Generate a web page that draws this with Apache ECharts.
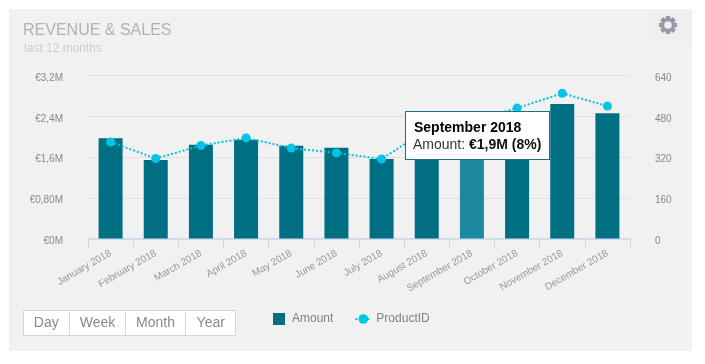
<!DOCTYPE html>
<html>
<head>
<meta charset="utf-8">
<script src="https://cdn.jsdelivr.net/npm/echarts@6/dist/echarts.min.js"></script>
<style>html,body{margin:0;padding:0;background:#fff}#c{width:705px;height:364px}</style>
</head>
<body>
<div id="c"></div>
<script>
const categories = ['January 2018','February 2018','March 2018','April 2018','May 2018','June 2018','July 2018','August 2018','September 2018','October 2018','November 2018','December 2018'];
const amountValues = [1.97,1.54,1.84,1.94,1.82,1.78,1.56,1.78,1.9,2.1,2.64,2.46];
const productValues = [379,314,365,395,355,336,312,426,465,512,570,520];
const leftTicks = {0:'€0M',0.8:'€0,80M',1.6:'€1,6M',2.4:'€2,4M',3.2:'€3,2M'};
const rangeButtons = ['Day','Week','Month','Year'];
const highlighted = 8;
const tipTitle = 'September 2018';
const tipAmount = '€1,9M (8%)';

const FONT = '"Liberation Sans", Arial, sans-serif';
const chart = echarts.init(document.getElementById('c'), null, {renderer:'canvas'});

const graphics = [
  {type:'rect',z:-10,silent:true,shape:{x:9,y:9,width:683,height:342},style:{fill:'#f1f1f1'}},
  {type:'rect',z:-9,silent:true,shape:{x:648,y:9,width:44,height:32},style:{fill:'#efeff0'}},
  {type:'text',left:23,top:23,silent:true,style:{text:'REVENUE & SALES',font:'16px '+FONT,fill:'#b2b2b2'}},
  {type:'text',left:24,top:43,silent:true,style:{text:'last 12 months',font:'12px '+FONT,fill:'#cdcdcd'}},
  {type:'ring',silent:true,shape:{cx:668,cy:25,r:7,r0:3.8},style:{fill:'#9a98a8'}}
];
for (let i=0;i<8;i++){
  graphics.push({type:'rect',silent:true,x:668,y:25,originX:0,originY:0,rotation:i*Math.PI/4,
    shape:{x:-2.2,y:-9,width:4.4,height:3.5},style:{fill:'#9a98a8'}});
}
const edges = [23,69.5,125.5,185.5,236];
graphics.push({type:'rect',silent:true,shape:{x:23.5,y:310.5,width:212,height:25},style:{fill:'#fff',stroke:'#d6d6d6',lineWidth:1}});
rangeButtons.forEach((b,i)=>{
  if(i>0) graphics.push({type:'line',silent:true,shape:{x1:edges[i],y1:310,x2:edges[i],y2:336},style:{stroke:'#d6d6d6',lineWidth:1}});
  graphics.push({type:'text',silent:true,x:(edges[i]+edges[i+1])/2,y:323,
    style:{text:b,font:'14px '+FONT,fill:'#8a8a8a',align:'center',verticalAlign:'middle'}});
});

chart.setOption({
  animation:false,
  textStyle:{fontFamily:FONT},
  grid:{left:88,right:75,top:75.5,bottom:125.5,containLabel:false},
  legend:{left:268,top:308,itemWidth:16,itemHeight:12,itemGap:21,selectedMode:false,
    textStyle:{color:'#808080',fontSize:12,fontFamily:FONT},
    data:[{name:'Amount',icon:'path://M0 0H10V10H0Z',itemStyle:{color:'#006f83'}},{name:'ProductID'}]},
  tooltip:{trigger:'item',alwaysShowContent:true,showContent:true,position:[405,111],
    transitionDuration:0,padding:0,borderWidth:0,backgroundColor:'transparent',
    extraCssText:'box-shadow:none;border-radius:0;',
    formatter:()=>`<div style="box-sizing:border-box;width:145px;height:49px;background:#fff;border:1px solid #1a6f80;padding:7px 0 0 8px;font:14px/17px ${FONT};white-space:nowrap"><div style="font-weight:bold;color:#000;line-height:17px;height:17px">${tipTitle}</div><div style="color:#333;line-height:17px;height:17px;margin-left:-1px">Amount: <span style="font-weight:bold;color:#111">${tipAmount}</span></div></div>`},
  xAxis:{type:'category',data:categories,boundaryGap:true,
    axisLine:{lineStyle:{color:'#c9d6ee',width:1.5}},
    axisTick:{show:true,alignWithLabel:false,length:9,lineStyle:{color:'#c9d6ee',width:1}},
    axisLabel:{rotate:30,interval:0,color:'#999',fontSize:10,margin:14,fontFamily:FONT}},
  yAxis:[
    {type:'value',min:0,max:3.2,interval:0.8,axisLine:{show:false},axisTick:{show:false},
     splitLine:{lineStyle:{color:'#e0e0e0',width:1}},
     axisLabel:{margin:25,color:'#888',fontSize:10,verticalAlign:'top',lineHeight:5,fontFamily:FONT,formatter:v=>leftTicks[Math.round(v*10)/10]}},
    {type:'value',min:0,max:640,interval:160,axisLine:{show:false},axisTick:{show:false},splitLine:{show:false},
     axisLabel:{margin:25,color:'#888',fontSize:10,verticalAlign:'top',lineHeight:5,fontFamily:FONT}}
  ],
  series:[
    {name:'Amount',type:'bar',barWidth:24,yAxisIndex:0,itemStyle:{color:'#006f83'},
     data:amountValues.map((v,i)=>i===highlighted?{value:v,itemStyle:{color:'#1b889d'}}:v)},
    {name:'ProductID',type:'line',yAxisIndex:1,symbol:'circle',symbolSize:9,showSymbol:true,z:5,
     itemStyle:{color:'#00c5e6'},lineStyle:{color:'#00c5e6',width:2,type:[2,2]},data:productValues}
  ],
  graphic:graphics
});
chart.dispatchAction({type:'showTip',seriesIndex:0,dataIndex:highlighted});
</script>
</body>
</html>
